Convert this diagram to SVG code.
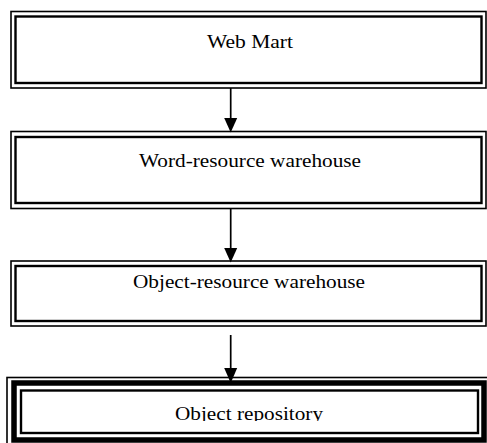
<svg xmlns="http://www.w3.org/2000/svg" width="487" height="443" viewBox="0 0 487 443">
  <style>
    .bg { fill: #ffffff; }
    .outer { fill: none; stroke: #000; stroke-width: 1.6; }
    .inner { fill: none; stroke: #000; stroke-width: 2.4; }
    .band { fill: none; stroke: #000; stroke-width: 5.5; }
    .label { font-family: "Liberation Serif", "Times New Roman", serif; font-size: 19px; fill: #000; text-anchor: middle; }
    .wire { stroke: #000; stroke-width: 1.7; fill: none; }
    .head { fill: #000; }
  </style>
  <defs>
    <clipPath id="repoClip">
      <rect x="0" y="380" width="487" height="41"/>
    </clipPath>
  </defs>
  <rect class="bg" x="0" y="0" width="487" height="443"/>

  <g id="web-mart">
    <rect class="outer" x="11" y="11.5" width="475" height="76.5"/>
    <rect class="inner" x="15.5" y="16.5" width="466" height="66.5"/>
    <text class="label" x="250" y="47.7" textLength="86" lengthAdjust="spacingAndGlyphs">Web Mart</text>
  </g>

  <g id="word-resource-warehouse">
    <rect class="outer" x="11" y="131.5" width="475" height="77"/>
    <rect class="inner" x="15.5" y="137" width="466" height="66"/>
    <text class="label" x="250" y="166.7" textLength="222" lengthAdjust="spacingAndGlyphs">Word-resource warehouse</text>
  </g>

  <g id="object-resource-warehouse">
    <rect class="outer" x="11" y="261" width="475" height="65"/>
    <rect class="inner" x="15.5" y="266" width="466" height="55"/>
    <text class="label" x="249" y="288" textLength="232" lengthAdjust="spacingAndGlyphs">Object-resource warehouse</text>
  </g>

  <g id="object-repository">
    <rect class="outer" x="7" y="377.5" width="483" height="80"/>
    <rect class="band" x="14" y="383" width="470" height="57"/>
    <rect class="inner" x="21" y="390.5" width="457" height="42.5"/>
    <text class="label" x="249" y="420" textLength="148" lengthAdjust="spacingAndGlyphs" clip-path="url(#repoClip)">Object repository</text>
  </g>

  <g id="connectors">
    <line class="wire" x1="230.7" y1="88" x2="230.7" y2="119"/>
    <polygon class="head" points="224.2,118 237.2,118 230.7,132.5"/>
    <line class="wire" x1="230.7" y1="209" x2="230.7" y2="249"/>
    <polygon class="head" points="224.2,248 237.2,248 230.7,262.5"/>
    <line class="wire" x1="230.7" y1="335" x2="230.7" y2="369"/>
    <polygon class="head" points="224.2,368 237.2,368 230.7,383"/>
  </g>
</svg>
